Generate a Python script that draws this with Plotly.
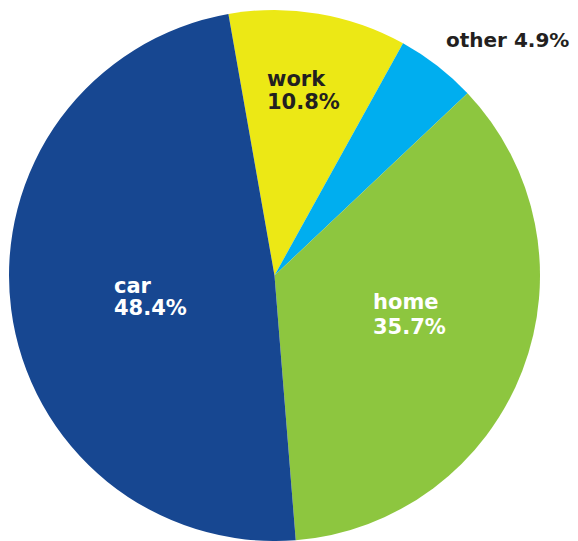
import plotly.graph_objects as go

# ---- data ----
labels = ["work", "other", "home", "car"]
values = [10.8, 4.9, 35.7, 48.4]
colors = ["#ECE815", "#00AEEF", "#8DC63F", "#174791"]
text_colors = ["#231F20", "#231F20", "#FFFFFF", "#FFFFFF"]

W, H = 578, 541

fig = go.Figure(
    go.Pie(
        labels=labels,
        values=values,
        sort=False,
        direction="clockwise",
        rotation=-10,
        marker=dict(colors=colors, line=dict(width=0)),
        textinfo="none",
        hoverinfo="label+value",
        showlegend=False,
        domain=dict(x=[9 / W, 540 / W], y=[0, 1 - 10 / H]),
    )
)

FONT = "DejaVu Sans"
FS = 21

# label anchor positions in pixels (left x, name-line center y, value-line center y)
label_pos = {
    "work": (265, 79, 102),
    "car": (112, 286, 308),
    "home": (371, 302, 327),
}

annotations = []
for lab, val, tc in zip(labels, values, text_colors):
    if lab in label_pos:
        x, y1, y2 = label_pos[lab]
        annotations.append(dict(x=x / W, y=1 - y1 / H, xref="paper", yref="paper",
                                xanchor="left", yanchor="middle", showarrow=False,
                                text=f"<b>{lab}</b>", font=dict(family=FONT, size=FS, color=tc)))
        annotations.append(dict(x=x / W, y=1 - y2 / H, xref="paper", yref="paper",
                                xanchor="left", yanchor="middle", showarrow=False,
                                text=f"<b>{val}%</b>", font=dict(family=FONT, size=FS, color=tc)))
    else:
        annotations.append(dict(x=444 / W, y=1 - 40 / H, xref="paper", yref="paper",
                                xanchor="left", yanchor="middle", showarrow=False,
                                text=f"<b>{lab} {val}%</b>", font=dict(family=FONT, size=20, color=tc)))

fig.update_layout(
    width=W, height=H,
    margin=dict(l=0, r=0, t=0, b=0),
    paper_bgcolor="white", plot_bgcolor="white",
    annotations=annotations,
)

fig.write_html("out.html")
